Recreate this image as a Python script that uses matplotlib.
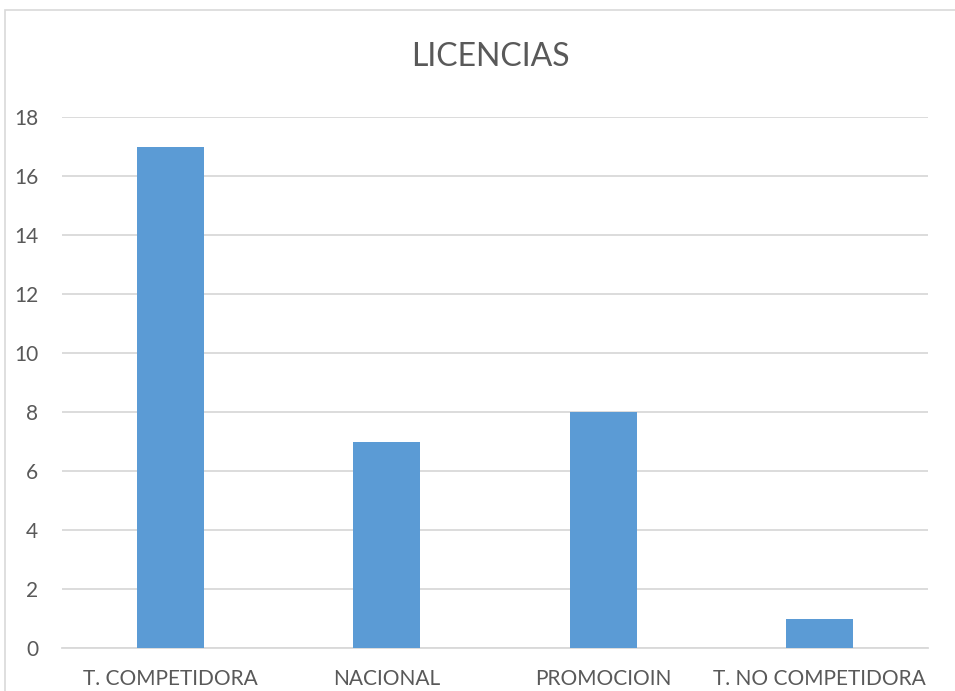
import matplotlib
matplotlib.use("Agg")
import matplotlib.pyplot as plt
from matplotlib.patches import Rectangle

categorias = ["T. COMPETIDORA", "NACIONAL", "PROMOCIOIN", "T. NO COMPETIDORA"]
licencias = [17, 7, 8, 1]
yticks = [0, 2, 4, 6, 8, 10, 12, 14, 16, 18]

plt.rcParams['font.family'] = ['Lato', 'DejaVu Sans']

W, H = 955, 691
fig = plt.figure(figsize=(W / 100, H / 100), dpi=100)

# marco del grafico
fig.patches.append(Rectangle((5 / W, -0.01), 1.0, 1 - 10 / H + 0.01,
                             transform=fig.transFigure, fill=False,
                             edgecolor="#d9d9d9", linewidth=1.2))

ax = fig.add_axes([62 / W, 1 - 648 / H, (928 - 62) / W, (648 - 117) / H])
ax.bar(range(len(categorias)), licencias, width=0.31, color="#5b9bd5", zorder=3)

ax.set_xlim(-0.5, len(categorias) - 0.5)
ax.set_ylim(0, 18)
ax.set_yticks(yticks)
ax.set_xticks(range(len(categorias)))
ax.set_xticklabels(categorias)
ax.grid(axis="y", color="#d9d9d9", linewidth=1.3, zorder=0)
for s in ["top", "right", "left"]:
    ax.spines[s].set_visible(False)
ax.spines["bottom"].set_color("#d9d9d9")
ax.spines["bottom"].set_linewidth(1.3)
ax.tick_params(axis="both", length=0, labelsize=15, colors="#595959")
ax.tick_params(axis="x", pad=15)
ax.tick_params(axis="y", pad=17)

fig.text(490 / W, 1 - 57 / H, "LICENCIAS", ha="center", va="center",
         fontsize=23, color="#595959")

fig.savefig("out.png", dpi=100)
